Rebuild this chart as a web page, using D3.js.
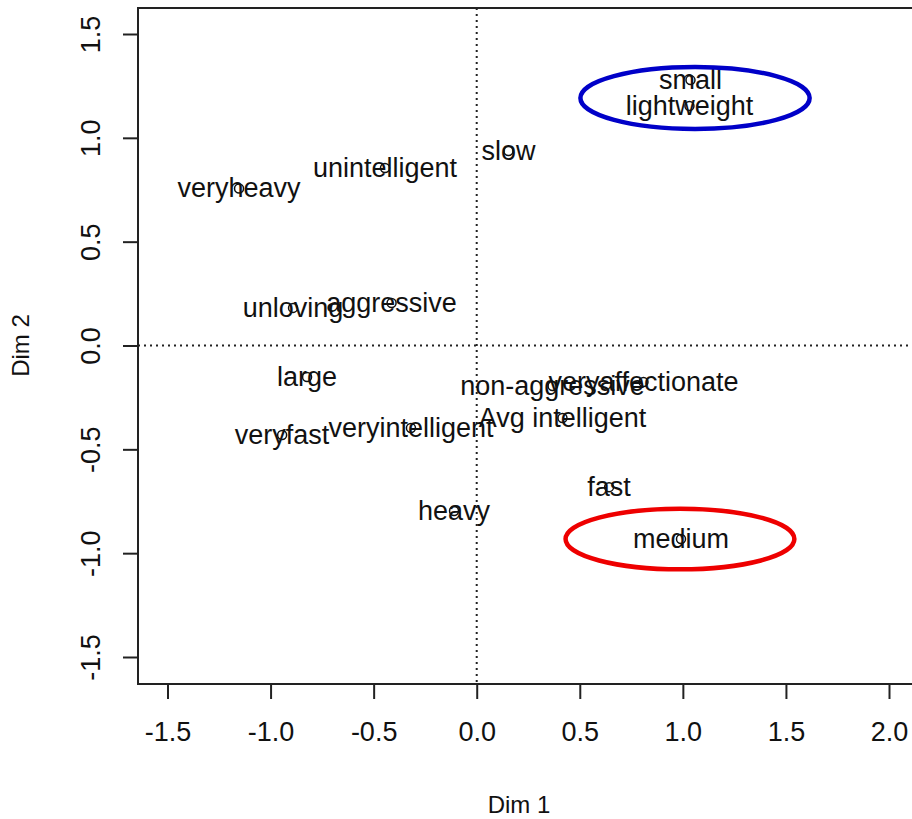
<!DOCTYPE html>
<html><head><meta charset="utf-8">
<script src="https://cdn.jsdelivr.net/npm/d3@7"></script>
<style>
html,body{margin:0;padding:0;background:#fff;}
svg text{font-family:"Liberation Sans",Arial,sans-serif;fill:#111;}
</style></head>
<body>
<svg id="chart" width="912" height="819"></svg>
<script>
// Data
const labels = ["small","lightweight","slow","unintelligent","veryheavy","unloving","aggressive","large",
  "veryfast","veryintelligent","heavy","non-aggressive","veryaffectionate","Avg intelligent","fast","medium"];
const dim1 = [1.037,1.032,0.154,-0.445,-1.153,-0.891,-0.413,-0.823,-0.944,-0.319,-0.110,0.368,0.809,0.416,0.642,0.991];
const dim2 = [1.278,1.153,0.937,0.855,0.756,0.181,0.205,-0.152,-0.431,-0.397,-0.797,-0.195,-0.176,-0.349,-0.682,-0.932];
const xTicks = [-1.5,-1.0,-0.5,0.0,0.5,1.0,1.5,2.0];
const yTicks = [-1.5,-1.0,-0.5,0.0,0.5,1.0,1.5];
// highlight ellipses: centre (dim1, dim2), radii in data units
const ellipseCx = [1.059, 0.986];
const ellipseCy = [1.192, -0.932];
const ellipseRx = [0.556, 0.555];
const ellipseRy = [0.149, 0.146];
const ellipseColor = ["#0000c8", "#ee0000"];

const svg = d3.select("#chart");
const x = d3.scaleLinear().domain([-1.5, 2.0]).range([167.5, 889]);
const y = d3.scaleLinear().domain([-1.5, 1.5]).range([657, 34]);
const box = {left:138, top:8, right:940, bottom:684};
const fs = 27;
const fmt = d => d3.format(".1f")(d).replace("\u2212", "-");

// dotted reference lines
svg.append("line").attr("x1", box.left).attr("x2", box.right).attr("y1", y(0)).attr("y2", y(0))
  .attr("stroke","#222").attr("stroke-width",2).attr("stroke-dasharray","2,4");
svg.append("line").attr("y1", box.top).attr("y2", box.bottom).attr("x1", x(0)).attr("x2", x(0))
  .attr("stroke","#222").attr("stroke-width",2).attr("stroke-dasharray","2,4");

// box
svg.append("rect").attr("x", box.left).attr("y", box.top)
  .attr("width", box.right-box.left).attr("height", box.bottom-box.top)
  .attr("fill","none").attr("stroke","#222").attr("stroke-width",2);

// x axis
const xa = svg.append("g").attr("transform", `translate(0,${box.bottom})`)
  .call(d3.axisBottom(x).tickValues(xTicks).tickFormat(fmt).tickSize(15).tickPadding(23));
xa.select(".domain").attr("d", `M${x(-1.5)},0H${x(2.0)}`).attr("stroke","#222").attr("stroke-width",2);
xa.selectAll(".tick line").attr("stroke","#222").attr("stroke-width",2);
xa.selectAll(".tick text").attr("font-size", fs).attr("font-family","Liberation Sans, Arial, sans-serif").attr("fill","#111");

// y axis
const ya = svg.append("g").attr("transform", `translate(${box.left},0)`)
  .call(d3.axisLeft(y).tickValues(yTicks).tickFormat(fmt).tickSize(15).tickPadding(0));
ya.select(".domain").attr("d", `M0,${y(-1.5)}V${y(1.5)}`).attr("stroke","#222").attr("stroke-width",2);
ya.selectAll(".tick line").attr("stroke","#222").attr("stroke-width",2);
ya.selectAll(".tick text")
  .attr("font-size", fs).attr("font-family","Liberation Sans, Arial, sans-serif").attr("fill","#111")
  .attr("x", null).attr("dy", null)
  .attr("text-anchor","middle")
  .attr("transform", "translate(-38,0) rotate(-90)");

// axis titles
svg.append("text").attr("x", 519).attr("y", 813).attr("text-anchor","middle")
  .attr("font-size", 24).text("Dim 1");
svg.append("text").attr("transform", `translate(29,${y(0)}) rotate(-90)`).attr("text-anchor","middle")
  .attr("font-size", 24).text("Dim 2");

// points
const pts = labels.map((l,i)=>({l, a:dim1[i], b:dim2[i]}));
svg.append("g").selectAll("circle").data(pts).join("circle")
  .attr("cx", d=>x(d.a)).attr("cy", d=>y(d.b)).attr("r", 4.5)
  .attr("fill","none").attr("stroke","#111").attr("stroke-width",1.5);
svg.append("g").selectAll("text").data(pts).join("text")
  .attr("x", d=>x(d.a)).attr("y", d=>y(d.b)).attr("dy","0.33em")
  .attr("text-anchor","middle").attr("font-size", fs).text(d=>d.l);

// ellipses
svg.append("g").selectAll("ellipse").data(ellipseCx).join("ellipse")
  .attr("cx", (d,i)=>x(d)).attr("cy", (d,i)=>y(ellipseCy[i]))
  .attr("rx", (d,i)=>x(ellipseRx[i]) - x(0)).attr("ry", (d,i)=>y(0) - y(ellipseRy[i]))
  .attr("fill","none").attr("stroke", (d,i)=>ellipseColor[i]).attr("stroke-width",4.5);
</script>
</body></html>
